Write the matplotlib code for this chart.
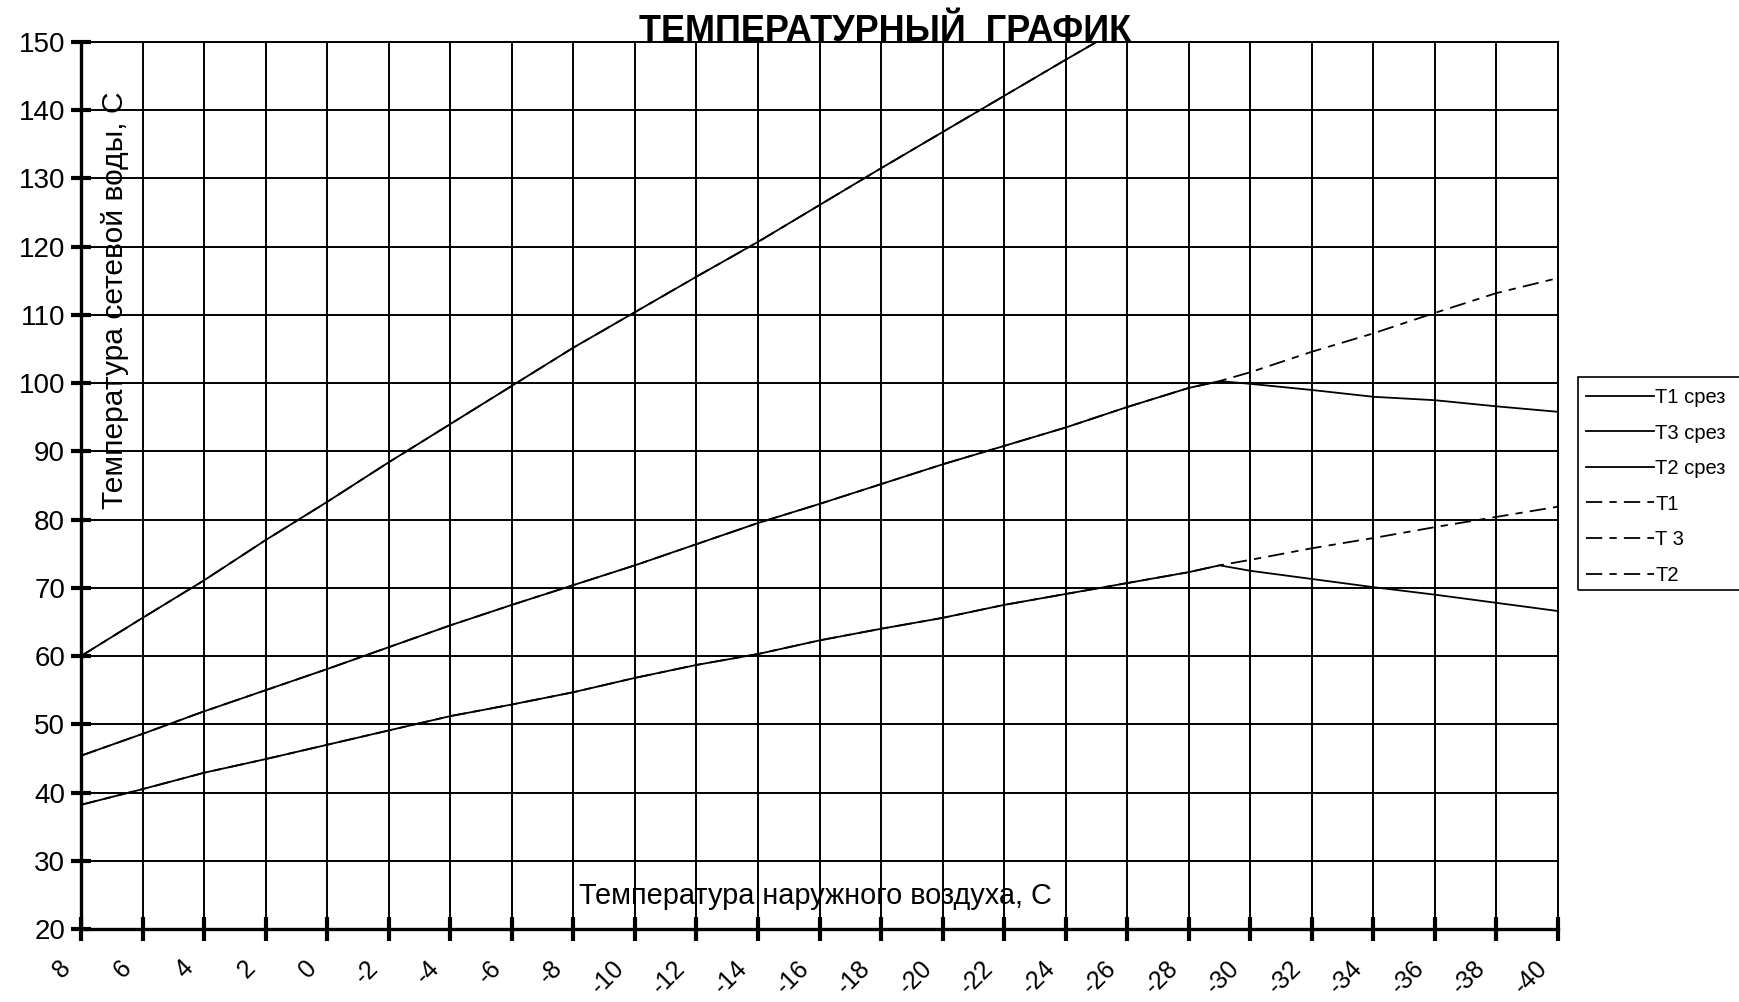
import matplotlib
matplotlib.use("Agg")
import matplotlib.pyplot as plt
from matplotlib.patches import Rectangle
import matplotlib.transforms as mtransforms

plt.rcParams['font.family'] = ['Liberation Sans', 'DejaVu Sans']

# ---- data ----
x_main = [8, 6, 4, 2, 0, -2, -4, -6, -8, -10, -12, -14, -16, -18, -20, -22, -24, -26, -28, -29,
          -30, -32, -34, -36, -38, -40]
t1_x = [8, 6, 4, 2, 0, -2, -4, -6, -8, -10, -12, -14, -16, -18, -20, -22, -24, -26]
t1 = [60.0, 65.6, 71.1, 77.0, 82.6, 88.4, 94.0, 99.6, 105.2, 110.4, 115.6, 120.7, 126.1, 131.5,
      136.8, 142.1, 147.4, 152.6]
t3 = [45.4, 48.6, 51.9, 55.0, 58.1, 61.3, 64.5, 67.5, 70.4, 73.3, 76.4, 79.5, 82.3, 85.2, 88.1,
      90.8, 93.5, 96.5, 99.3, 100.3, 101.6, 104.6, 107.3, 110.3, 113.2, 115.4]
t3_cut = [45.4, 48.6, 51.9, 55.0, 58.1, 61.3, 64.5, 67.5, 70.4, 73.3, 76.4, 79.5, 82.3, 85.2, 88.1,
          90.8, 93.5, 96.5, 99.3, 100.3, 99.9, 99.0, 98.0, 97.5, 96.6, 95.8]
t2 = [38.2, 40.5, 42.9, 44.9, 47.0, 49.1, 51.2, 52.9, 54.7, 56.8, 58.7, 60.3, 62.3, 64.0, 65.6,
      67.5, 69.1, 70.7, 72.3, 73.3, 74.1, 75.8, 77.3, 78.9, 80.4, 81.9]
t2_cut = [38.2, 40.5, 42.9, 44.9, 47.0, 49.1, 51.2, 52.9, 54.7, 56.8, 58.7, 60.3, 62.3, 64.0, 65.6,
          67.5, 69.1, 70.7, 72.3, 73.3, 72.5, 71.3, 70.1, 69.0, 67.8, 66.6]
x_ticks = list(range(8, -41, -2))
y_ticks = list(range(20, 151, 10))

title = "ТЕМПЕРАТУРНЫЙ  ГРАФИК"
ylabel = "Температура сетевой воды, С"
xlabel = "Температура наружного воздуха, С"

W, H = 1739, 1002
fig = plt.figure(figsize=(W / 100, H / 100), dpi=100)
ax = fig.add_axes([81 / W, 1 - 929 / H, (1558 - 81) / W, (929 - 42) / H])

dash = (0, (9, 4, 4, 4))
lw = 1.3
ax.plot(t1_x, t1, color='black', lw=lw, label='T1 срез', zorder=3)
ax.plot(x_main, t3_cut, color='black', lw=lw, label='T3 срез', zorder=3)
ax.plot(x_main, t2_cut, color='black', lw=lw, label='T2 срез', zorder=3)
ax.plot(t1_x, t1, color='black', lw=lw, ls=dash, label='T1', zorder=3)
ax.plot(x_main, t3, color='black', lw=lw, ls=dash, label='T 3', zorder=3)
ax.plot(x_main, t2, color='black', lw=lw, ls=dash, label='T2', zorder=3)

ax.set_xlim(8, -40)
ax.set_ylim(20, 150)
ax.set_xticks(x_ticks)
ax.set_xticklabels([str(v) for v in x_ticks])
ax.set_yticks(y_ticks)
ax.grid(True, color='black', lw=1.4, zorder=1)
ax.set_axisbelow(True)

for s in ['left', 'bottom']:
    ax.spines[s].set_linewidth(2.4)
for s in ['top', 'right']:
    ax.spines[s].set_linewidth(1.4)

ax.tick_params(axis='y', direction='inout', length=15, width=3, labelsize=20, pad=4)
ax.tick_params(axis='x', direction='inout', length=17, width=3, labelsize=18, pad=11)
for lab in ax.get_xticklabels():
    lab.set_rotation(45)
    lab.set_ha('right')
    lab.set_va('top')
    lab.set_transform(lab.get_transform() + mtransforms.ScaledTranslation(-6 / 100, 0, fig.dpi_scale_trans))

fig.text(885 / W, 1 - 41 / H, title, ha='center', va='baseline', fontsize=26, fontweight='bold')
fig.text(115 / W, 1 - 300 / H, ylabel, rotation=90, ha='center', va='center', fontsize=21.6)
fig.text(815 / W, 1 - 896 / H, xlabel, ha='center', va='center', fontsize=20.8)

leg = fig.legend(loc='upper left', bbox_to_anchor=(1586 / W, 1 - 388 / H),
                 frameon=False, fontsize=14.5, handlelength=3.4, handletextpad=0.05,
                 labelspacing=0.82, borderpad=0, borderaxespad=0)
fig.patches.append(Rectangle((1578 / W, 1 - 590 / H), (1760 - 1578) / W, (590 - 377) / H,
                             transform=fig.transFigure, fill=False, edgecolor='black', lw=1.2))

fig.savefig("out.png", dpi=100)
